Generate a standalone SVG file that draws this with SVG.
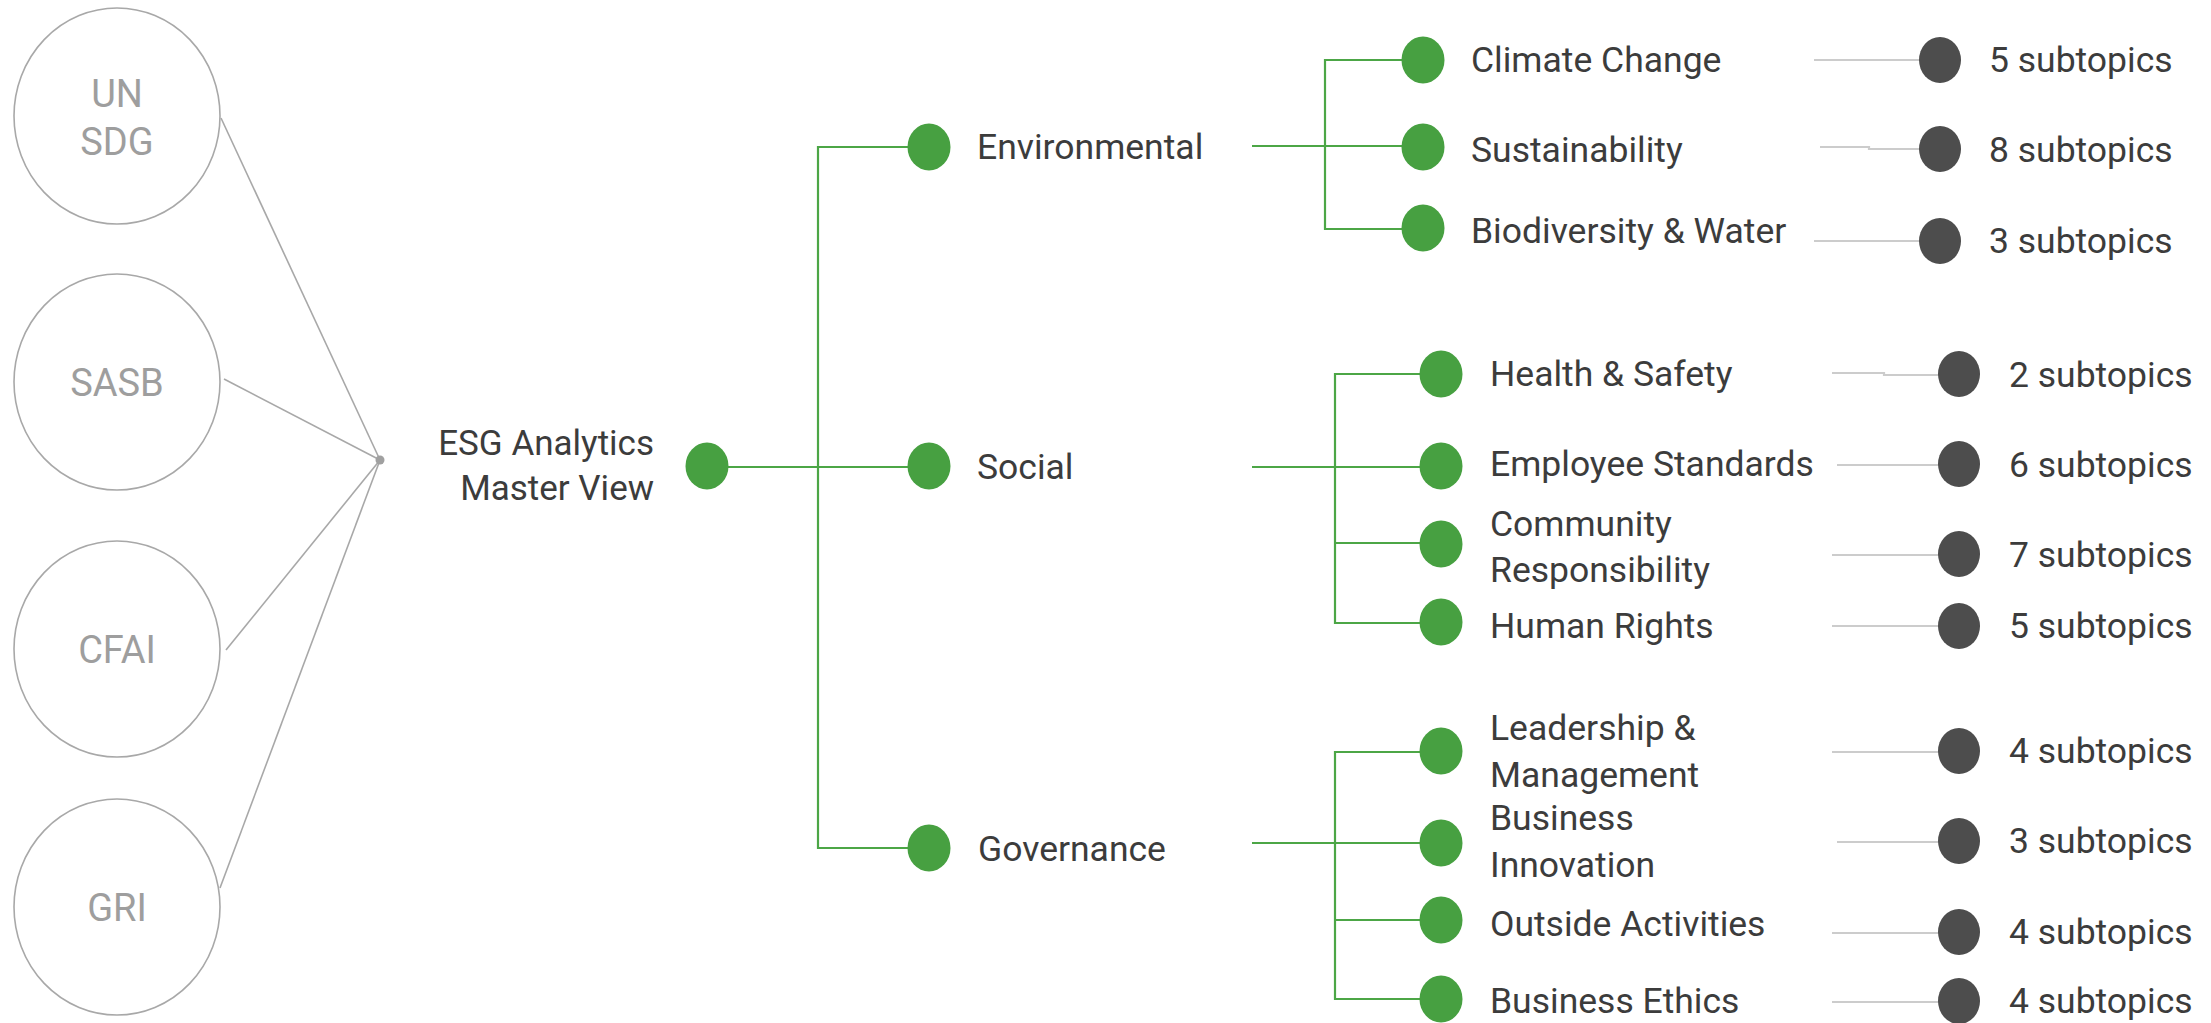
<svg xmlns="http://www.w3.org/2000/svg" width="2211" height="1023" viewBox="0 0 2211 1023">
<style>
.bg{fill:#ffffff}
.src{fill:none;stroke:#a8a8a8;stroke-width:1.6}
.srct{font-family:Roboto,"Liberation Sans",sans-serif;font-size:38px;fill:#9e9e9e;text-anchor:middle}
.gl{fill:none;stroke:#4ca646;stroke-width:2.2}
.ll{fill:none;stroke:#cccccc;stroke-width:2.2}
.cl{fill:none;stroke:#a8a8a8;stroke-width:1.6}
.gd{fill:#47a041}
.dd{fill:#4d4d4d}
.t{font-family:Roboto,"Liberation Sans",sans-serif;font-size:35.5px;fill:#3c3c3c}
.tr{font-family:Roboto,"Liberation Sans",sans-serif;font-size:35px;fill:#3c3c3c;text-anchor:end}
</style>
<rect class="bg" x="0" y="0" width="2211" height="1023"/>

<g id="connectors">
  <path class="cl" d="M221 118 L380 460"/>
  <path class="cl" d="M224 379 L380 460"/>
  <path class="cl" d="M226 650 L380 460"/>
  <path class="cl" d="M220 888 L380 460"/>
  <circle cx="380" cy="460" r="4.5" fill="#a0a0a0"/>
  <path class="gl" d="M707 467 H929"/>
  <path class="gl" d="M929 147 H818 V848 H929"/>
  <path class="gl" d="M1252 146 H1325"/>
  <path class="gl" d="M1423 60 H1325 V229 H1423"/>
  <path class="gl" d="M1325 146 H1423"/>
  <path class="gl" d="M1252 467 H1441"/>
  <path class="gl" d="M1441 374 H1335 V623 H1441"/>
  <path class="gl" d="M1335 543 H1441"/>
  <path class="gl" d="M1252 843 H1441"/>
  <path class="gl" d="M1441 752 H1335 V999 H1441"/>
  <path class="gl" d="M1335 920 H1441"/>
  <path class="ll" d="M1814 60 H1940"/>
  <path class="ll" d="M1820 147 H1869 V149 H1940"/>
  <path class="ll" d="M1814 241 H1940"/>
  <path class="ll" d="M1832 373 H1884 V375 H1959"/>
  <path class="ll" d="M1837 465 H1959"/>
  <path class="ll" d="M1832 555 H1959"/>
  <path class="ll" d="M1832 626 H1959"/>
  <path class="ll" d="M1832 752 H1959"/>
  <path class="ll" d="M1837 842 H1959"/>
  <path class="ll" d="M1832 933 H1959"/>
  <path class="ll" d="M1832 1002 H1959"/>
</g>

<g id="src-unsdg"><ellipse class="src" cx="117" cy="116" rx="103" ry="108"/><text class="srct" x="117" y="107">UN</text><text class="srct" x="117" y="155">SDG</text></g>
<g id="src-sasb"><ellipse class="src" cx="117" cy="382" rx="103" ry="108"/><text class="srct" x="117" y="396">SASB</text></g>
<g id="src-cfai"><ellipse class="src" cx="117" cy="649" rx="103" ry="108"/><text class="srct" x="117" y="663">CFAI</text></g>
<g id="src-gri"><ellipse class="src" cx="117" cy="907" rx="103" ry="108"/><text class="srct" x="117" y="921">GRI</text></g>

<g id="root"><ellipse class="gd" cx="707" cy="466" rx="21.5" ry="23.5"/><text class="tr" x="654" y="455">ESG Analytics</text><text class="tr" x="654" y="500">Master View</text></g>

<g id="environmental"><ellipse class="gd" cx="929" cy="147" rx="21.5" ry="23.5"/><text class="t" x="977" y="159">Environmental</text></g>
<g id="social"><ellipse class="gd" cx="929" cy="466" rx="21.5" ry="23.5"/><text class="t" x="977" y="479">Social</text></g>
<g id="governance"><ellipse class="gd" cx="929" cy="848" rx="21.5" ry="23.5"/><text class="t" x="978" y="861">Governance</text></g>

<g id="climate-change"><ellipse class="gd" cx="1423" cy="60" rx="21.5" ry="23.5"/><text class="t" x="1471" y="72">Climate Change</text></g>
<g id="sustainability"><ellipse class="gd" cx="1423" cy="147" rx="21.5" ry="23.5"/><text class="t" x="1471" y="162">Sustainability</text></g>
<g id="biodiversity"><ellipse class="gd" cx="1423" cy="228" rx="21.5" ry="23.5"/><text class="t" x="1471" y="243">Biodiversity &amp; Water</text></g>

<g id="health-safety"><ellipse class="gd" cx="1441" cy="374" rx="21.5" ry="23.5"/><text class="t" x="1490" y="386">Health &amp; Safety</text></g>
<g id="employee-standards"><ellipse class="gd" cx="1441" cy="466" rx="21.5" ry="23.5"/><text class="t" x="1490" y="476">Employee Standards</text></g>
<g id="community"><ellipse class="gd" cx="1441" cy="544" rx="21.5" ry="23.5"/><text class="t" x="1490" y="536">Community</text><text class="t" x="1490" y="582">Responsibility</text></g>
<g id="human-rights"><ellipse class="gd" cx="1441" cy="622" rx="21.5" ry="23.5"/><text class="t" x="1490" y="638">Human Rights</text></g>

<g id="leadership"><ellipse class="gd" cx="1441" cy="751" rx="21.5" ry="23.5"/><text class="t" x="1490" y="740">Leadership &amp;</text><text class="t" x="1490" y="787">Management</text></g>
<g id="business-innovation"><ellipse class="gd" cx="1441" cy="843" rx="21.5" ry="23.5"/><text class="t" x="1490" y="830">Business</text><text class="t" x="1490" y="877">Innovation</text></g>
<g id="outside-activities"><ellipse class="gd" cx="1441" cy="920" rx="21.5" ry="23.5"/><text class="t" x="1490" y="936">Outside Activities</text></g>
<g id="business-ethics"><ellipse class="gd" cx="1441" cy="999" rx="21.5" ry="23.5"/><text class="t" x="1490" y="1013">Business Ethics</text></g>

<g id="cc-count"><ellipse class="dd" cx="1940" cy="60" rx="21" ry="23"/><text class="t" x="1989" y="72">5 subtopics</text></g>
<g id="su-count"><ellipse class="dd" cx="1940" cy="149" rx="21" ry="23"/><text class="t" x="1989" y="162">8 subtopics</text></g>
<g id="bw-count"><ellipse class="dd" cx="1940" cy="241" rx="21" ry="23"/><text class="t" x="1989" y="253">3 subtopics</text></g>
<g id="hs-count"><ellipse class="dd" cx="1959" cy="374" rx="21" ry="23"/><text class="t" x="2009" y="387">2 subtopics</text></g>
<g id="es-count"><ellipse class="dd" cx="1959" cy="464" rx="21" ry="23"/><text class="t" x="2009" y="477">6 subtopics</text></g>
<g id="cr-count"><ellipse class="dd" cx="1959" cy="554" rx="21" ry="23"/><text class="t" x="2009" y="567">7 subtopics</text></g>
<g id="hr-count"><ellipse class="dd" cx="1959" cy="626" rx="21" ry="23"/><text class="t" x="2009" y="638">5 subtopics</text></g>
<g id="lm-count"><ellipse class="dd" cx="1959" cy="751" rx="21" ry="23"/><text class="t" x="2009" y="763">4 subtopics</text></g>
<g id="bi-count"><ellipse class="dd" cx="1959" cy="841" rx="21" ry="23"/><text class="t" x="2009" y="853">3 subtopics</text></g>
<g id="oa-count"><ellipse class="dd" cx="1959" cy="932" rx="21" ry="23"/><text class="t" x="2009" y="944">4 subtopics</text></g>
<g id="be-count"><ellipse class="dd" cx="1959" cy="1001" rx="21" ry="23"/><text class="t" x="2009" y="1013">4 subtopics</text></g>
</svg>
